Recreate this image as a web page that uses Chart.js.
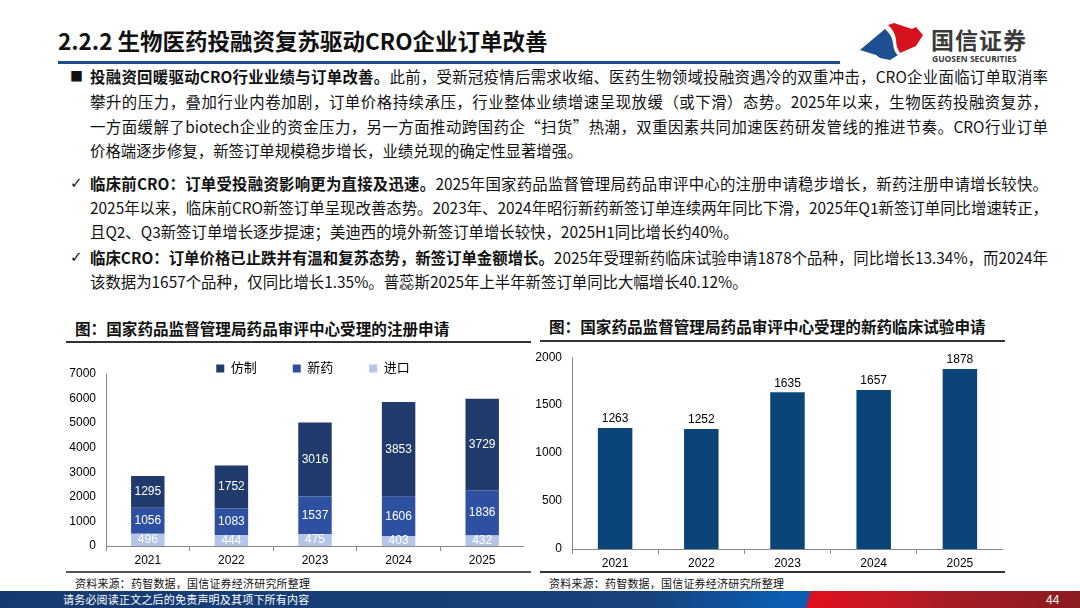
<!DOCTYPE html>
<html>
<head>
<meta charset="utf-8">
<script src="https://cdn.jsdelivr.net/npm/chart.js@4.4.1/dist/chart.umd.min.js"></script>
<style>
  body { margin: 0; width: 1080px; height: 608px; position: relative; overflow: hidden; background: #fff;
         font-family: "Noto Sans CJK SC", "Noto Sans", sans-serif; color: #111; }
  .abs { position: absolute; }
  .line { position: absolute; left: 90px; width: 958px; height: 24px; line-height: 24px; font-size: 15.4px;
          white-space: nowrap; text-align: justify; text-align-last: justify; }
  .line.last { text-align-last: left; }
  .mark { position: absolute; left: 70px; font-size: 13px; line-height: 24px; }
  .rule { position: absolute; height: 2px; background: #333; }
  .ctitle { position: absolute; font-weight: bold; font-size: 15.6px; white-space: nowrap; color: #111; }
  .source { position: absolute; font-size: 11px; letter-spacing: 0.2px; white-space: nowrap; color: #111; }
  canvas { position: absolute; }
</style>
</head>
<body>

<div class="abs" style="left:58px;top:24px;font-size:22.5px;font-weight:bold;white-space:nowrap;color:#111;">2.2.2 生物医药投融资复苏驱动CRO企业订单改善</div>
<div class="abs" style="left:58px;top:61px;width:782px;height:3px;background:#1f4e8c;"></div>

<svg class="abs" style="left:850px;top:15px;" width="80" height="50" viewBox="0 0 80 50">
  <path d="M10 35 L35 14 Q42 20 43 28 Q44 38 48 40 L40 45 L30 43 L26 40 Z" fill="#1d4f91"/>
  <path d="M38 10 L44 8 L62 14 L66 12 L73 20 L66 31 L50 38 Q46 32 46 25 Q45 16 38 10 Z" fill="#d7121f"/>
</svg>
<div class="abs" style="left:931px;top:22px;font-size:23px;font-weight:bold;color:#3a3a3a;letter-spacing:1px;white-space:nowrap;">国信证券</div>
<div class="abs" style="left:932px;top:53px;font-size:8.5px;font-weight:bold;color:#3a3a3a;white-space:nowrap;font-family:'Open Sans',sans-serif;">GUOSEN SECURITIES</div>

<div class="mark" style="top:64px;">■</div>
<div class="line" style="top:64px;"><b>投融资回暖驱动CRO行业业绩与订单改善。</b>此前，受新冠疫情后需求收缩、医药生物领域投融资遇冷的双重冲击，CRO企业面临订单取消率</div>
<div class="line" style="top:89px;">攀升的压力，叠加行业内卷加剧，订单价格持续承压，行业整体业绩增速呈现放缓（或下滑）态势。2025年以来，生物医药投融资复苏，</div>
<div class="line" style="top:114px;">一方面缓解了biotech企业的资金压力，另一方面推动跨国药企“扫货”热潮，双重因素共同加速医药研发管线的推进节奏。CRO行业订单</div>
<div class="line last" style="top:138px;">价格端逐步修复，新签订单规模稳步增长，业绩兑现的确定性显著增强。</div>

<div class="mark" style="top:171px;font-family:'DejaVu Sans';font-size:15px;">✓</div>
<div class="line" style="top:171px;"><b>临床前CRO：订单受投融资影响更为直接及迅速。</b>2025年国家药品监督管理局药品审评中心的注册申请稳步增长，新药注册申请增长较快。</div>
<div class="line" style="top:195px;">2025年以来，临床前CRO新签订单呈现改善态势。2023年、2024年昭衍新药新签订单连续两年同比下滑，2025年Q1新签订单同比增速转正，</div>
<div class="line last" style="top:219px;">且Q2、Q3新签订单增长逐步提速；美迪西的境外新签订单增长较快，2025H1同比增长约40%。</div>

<div class="mark" style="top:245px;font-family:'DejaVu Sans';font-size:15px;">✓</div>
<div class="line" style="top:245px;"><b>临床CRO：订单价格已止跌并有温和复苏态势，新签订单金额增长。</b>2025年受理新药临床试验申请1878个品种，同比增长13.34%，而2024年</div>
<div class="line last" style="top:269px;">该数据为1657个品种，仅同比增长1.35%。普蕊斯2025年上半年新签订单同比大幅增长40.12%。</div>

<div class="ctitle" style="left:75px;top:317px;">图：国家药品监督管理局药品审评中心受理的注册申请</div>
<div class="rule" style="left:66px;top:341px;width:465px;"></div>
<div class="ctitle" style="left:549px;top:315px;">图：国家药品监督管理局药品审评中心受理的新药临床试验申请</div>
<div class="rule" style="left:540px;top:340px;width:465px;"></div>

<canvas id="regChart" width="458" height="242" style="left:66px;top:326px;"></canvas>
<canvas id="ctChart" width="471" height="231" style="left:532px;top:340px;"></canvas>

<div class="rule" style="left:66px;top:571px;width:465px;background:#555;"></div>
<div class="rule" style="left:540px;top:571px;width:465px;background:#333;"></div>
<div class="source" style="left:75px;top:575px;">资料来源：药智数据，国信证券经济研究所整理</div>
<div class="source" style="left:549px;top:575px;">资料来源：药智数据，国信证券经济研究所整理</div>

<div class="abs" style="left:0;top:591px;width:1080px;height:17px;
  background:linear-gradient(105deg,#153a70 0%,#17427c 60%,#0b5cb2 72%,#0b5cb2 74.5%,#e0101e 75%,#c41a24 82%,#a51d25 88%,#8a1b20 100%);"></div>
<div class="abs" style="left:63px;top:592px;font-size:11px;color:#fff;letter-spacing:0.2px;white-space:nowrap;line-height:15px;">请务必阅读正文之后的免责声明及其项下所有内容</div>
<div class="abs" style="left:1046px;top:592px;font-size:12px;color:#fff;white-space:nowrap;line-height:16px;font-family:'Liberation Sans';">44</div>

<script>
const years = ["2021", "2022", "2023", "2024", "2025"];
// 注册申请（件）
const generic = [1295, 1752, 3016, 3853, 3729];   // 仿制
const newDrug = [1056, 1083, 1537, 1606, 1836];   // 新药
const imported = [496, 444, 475, 403, 432];       // 进口
// 新药临床试验申请（件）
const clinicalTrials = [1263, 1252, 1635, 1657, 1878];

const regMax = 7000, regStep = 1000;
const ctMax = 2000, ctStep = 500;

const fontFamily = '"Liberation Sans", "Noto Sans CJK SC", sans-serif';

// writes each bar's value, inside the segment or above the bar
const barLabels = {
  id: "barLabels",
  afterDatasetsDraw(chart, args, opts) {
    const ctx = chart.ctx;
    ctx.save();
    ctx.font = "12px " + fontFamily;
    ctx.textAlign = "center";
    ctx.fillStyle = opts.color;
    chart.data.datasets.forEach((ds, i) => {
      chart.getDatasetMeta(i).data.forEach((bar, j) => {
        if (opts.inside) {
          ctx.textBaseline = "middle";
          ctx.fillText(ds.data[j], bar.x, (bar.y + bar.base) / 2);
        } else {
          ctx.textBaseline = "bottom";
          ctx.fillText(ds.data[j], bar.x, bar.y - 3);
        }
      });
    });
    ctx.restore();
  }
};

// let the legend sit over the top of the plot like in the report
const legendShrink = {
  id: "legendShrink",
  beforeInit(chart) {
    if (!chart.legend) return;
    const fit = chart.legend.fit;
    chart.legend.fit = function () {
      fit.call(this);
      this.height = 48;
    };
  },
  afterLayout(chart) {
    // nudge legend to the right, over the middle of the bars
    chart.legend.left += 18;
    chart.legend.right += 18;
  }
};

function axes(max, step) {
  return {
    x: {
      stacked: true,
      grid: { display: true, drawOnChartArea: false, drawTicks: true, tickLength: 5, offset: true, color: "#888" },
      border: { display: true, color: "#888" },
      ticks: { color: "#000", font: { size: 12, family: fontFamily }, padding: 2 },
      afterFit(scale) { scale.height = 22; }
    },
    y: {
      stacked: true,
      min: 0,
      max: max,
      grid: { display: false, drawTicks: false },
      border: { display: true, color: "#888" },
      ticks: { stepSize: step, color: "#000", font: { size: 12, family: fontFamily }, padding: 10,
               callback: (v) => String(v) },
      afterFit(scale) { scale.width = 40; }
    }
  };
}

new Chart(document.getElementById("regChart"), {
  type: "bar",
  data: {
    labels: years,
    datasets: [
      { label: "进口", data: imported, backgroundColor: "#b4c6e8" },
      { label: "新药", data: newDrug, backgroundColor: "#2e50a0" },
      { label: "仿制", data: generic, backgroundColor: "#203a6c" }
    ]
  },
  options: {
    responsive: false,
    animation: false,
    barPercentage: 0.4,
    categoryPercentage: 1,
    layout: { padding: 0 },
    scales: axes(regMax, regStep),
    plugins: {
      legend: {
        position: "top",
        reverse: true,
        labels: { boxWidth: 8, boxHeight: 8, padding: 36, color: "#000", font: { size: 13, family: fontFamily } }
      },
      tooltip: { enabled: false },
      barLabels: { inside: true, color: "#fff" }
    }
  },
  plugins: [legendShrink, barLabels]
});

new Chart(document.getElementById("ctChart"), {
  type: "bar",
  data: {
    labels: years,
    datasets: [
      { label: "新药临床试验申请", data: clinicalTrials, backgroundColor: "#0b4479" }
    ]
  },
  options: {
    responsive: false,
    animation: false,
    barPercentage: 0.4,
    categoryPercentage: 1,
    layout: { padding: { top: 10, right: 0, left: 0, bottom: 0 } },
    scales: axes(ctMax, ctStep),
    plugins: {
      legend: { display: false },
      tooltip: { enabled: false },
      barLabels: { inside: false, color: "#000" }
    }
  },
  plugins: [barLabels]
});
</script>
</body>
</html>
